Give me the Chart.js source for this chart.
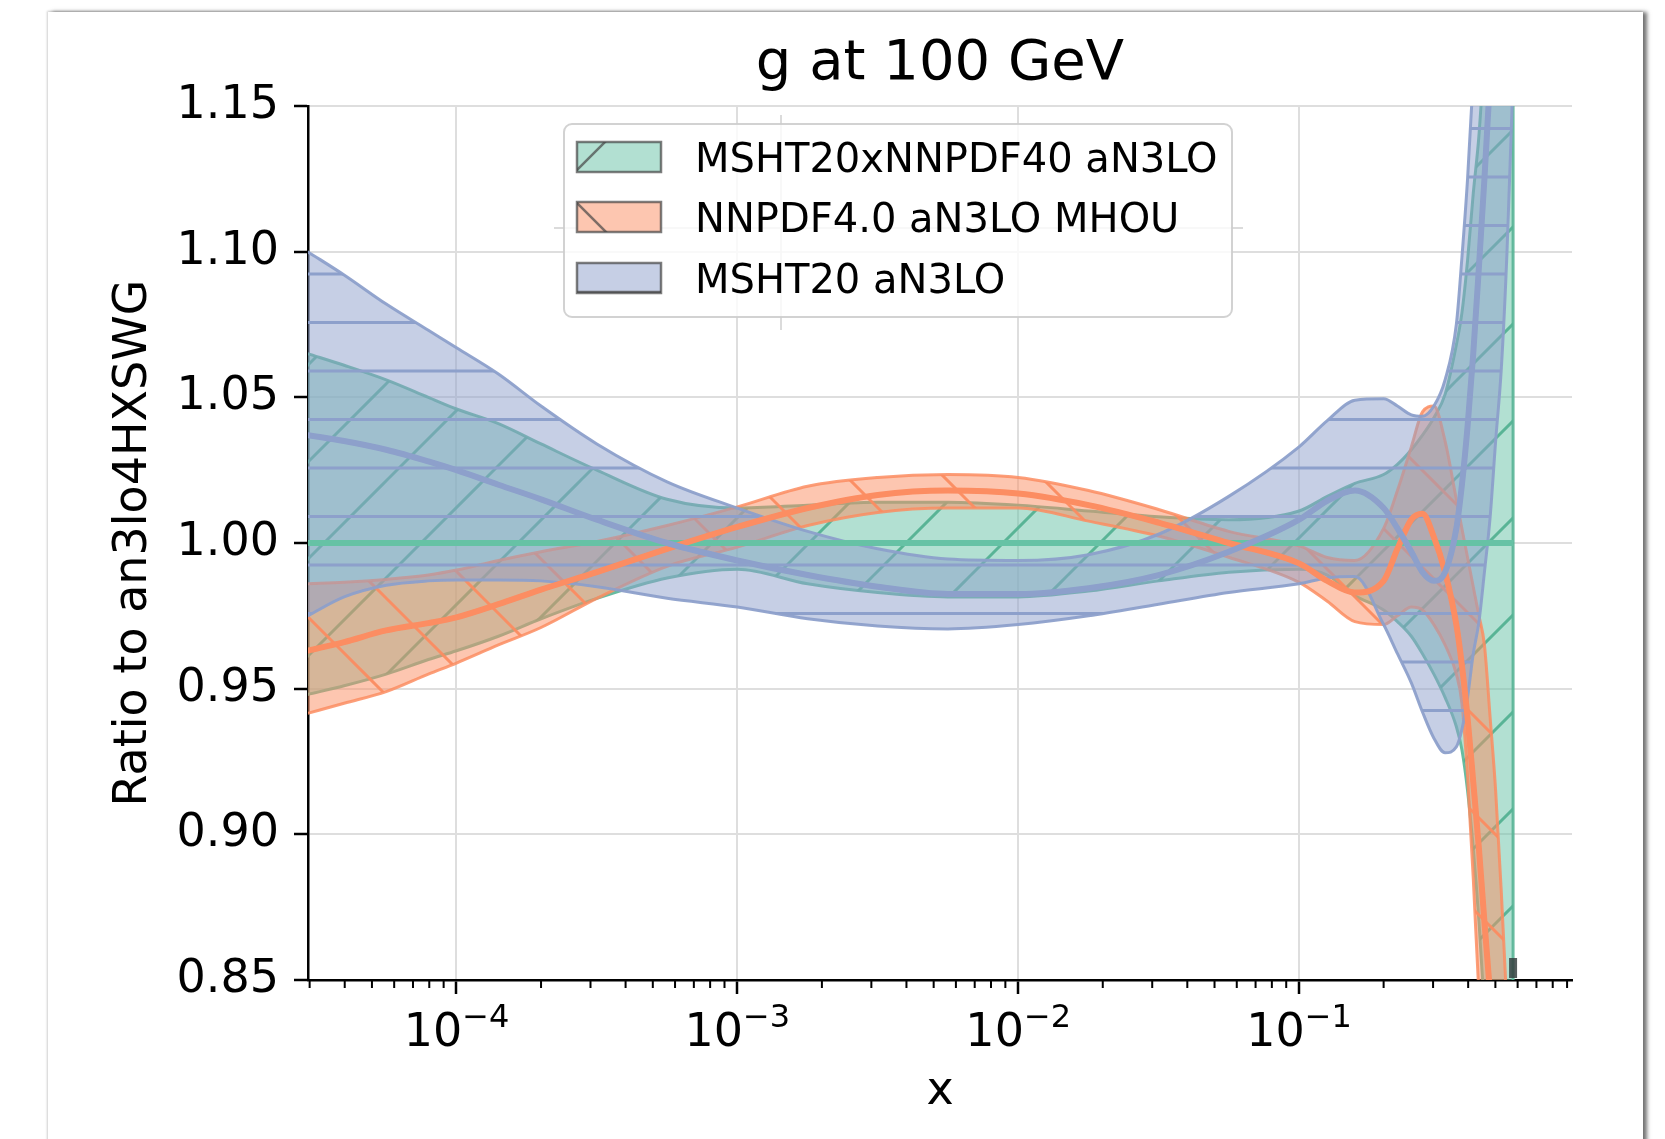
<!DOCTYPE html>
<html>
<head>
<meta charset="utf-8">
<title>g at 100 GeV</title>
<script src="https://cdn.jsdelivr.net/npm/chart.js@4.4.1/dist/chart.umd.min.js"></script>
<style>
  html, body { margin: 0; padding: 0; background: #fff; }
  body { width: 1665px; height: 1139px; position: relative; overflow: hidden; }
  .sheet {
    position: absolute; left: 48px; top: 12px; width: 1595px; height: 1200px; background: #fff;
    box-shadow: -1px -1px 2px rgba(0, 0, 0, 0.18), 4px 0 4px rgba(0, 0, 0, 0.55);
  }
  canvas { position: absolute; left: 0; top: 0; }
</style>
</head>
<body>
<div class="sheet"></div>
<canvas id="pdfRatio" width="1665" height="1139"></canvas>
<script>
// x grid shared by every set
const xGrid = [
  2.95e-5, 3.98e-5, 5.62e-5, 7.94e-5, 1.0e-4, 1.41e-4, 2.0e-4, 3.16e-4, 5.62e-4, 1.0e-3,
  1.78e-3, 3.16e-3, 5.62e-3, 0.01, 0.0178, 0.0316, 0.0562, 0.1, 0.126, 0.158,
  0.2, 0.224, 0.251, 0.275, 0.302, 0.331, 0.363, 0.380, 0.398, 0.417,
  0.437, 0.457, 0.479, 0.501, 0.525, 0.550, 0.578
];

// MSHT20xNNPDF40 aN3LO (the reference set itself)
const comboCentral = [
  1, 1, 1, 1, 1, 1, 1, 1, 1, 1, 1, 1, 1, 1, 1, 1, 1, 1, 1, 1,
  1, 1, 1, 1, 1, 1, 1, 1, 1, 1, 1, 1, 1, 1, 1, 1, 1
];
const comboUpper = [
  1.065, 1.061, 1.056, 1.050, 1.046, 1.041, 1.034, 1.025, 1.015, 1.012,
  1.013, 1.014, 1.014, 1.013, 1.011, 1.009, 1.008, 1.011, 1.016, 1.0205,
  1.0235, 1.027, 1.032, 1.037, 1.043, 1.051, 1.068, 1.079, 1.097, 1.120,
  1.140, 1.170, 1.210, 1.260, 1.320, 1.400, 1.500
];
const comboLower = [
  0.948, 0.951, 0.955, 0.960, 0.963, 0.968, 0.974, 0.981, 0.988, 0.991,
  0.986, 0.983, 0.9815, 0.9815, 0.9835, 0.987, 0.990, 0.991, 0.989, 0.982,
  0.977, 0.973, 0.968, 0.962, 0.955, 0.947, 0.937, 0.929, 0.915, 0.895,
  0.870, 0.840, 0.800, 0.750, 0.700, 0.600, 0.500
];

// NNPDF4.0 aN3LO MHOU
const nnpdfCentral = [
  0.963, 0.966, 0.970, 0.9725, 0.9745, 0.979, 0.984, 0.990, 0.998, 1.0055,
  1.012, 1.0165, 1.018, 1.017, 1.013, 1.007, 1.000, 0.993, 0.987, 0.983,
  0.987, 0.998, 1.008, 1.010, 1.002, 0.990, 0.972, 0.958, 0.940, 0.918,
  0.895, 0.870, 0.845, 0.820, 0.790, 0.760, 0.720
];
const nnpdfUpper = [
  0.986, 0.9865, 0.9875, 0.989, 0.9907, 0.994, 0.997, 1.0005, 1.006, 1.0124,
  1.0195, 1.0225, 1.0235, 1.0225, 1.018, 1.0115, 1.004, 0.999, 0.995, 0.994,
  1.005, 1.018, 1.033, 1.045, 1.047, 1.035, 1.015, 1.005, 0.995, 0.985,
  0.975, 0.965, 0.940, 0.915, 0.880, 0.840, 0.800
];
const nnpdfLower = [
  0.9415, 0.945, 0.949, 0.955, 0.9588, 0.965, 0.971, 0.981, 0.992, 0.9986,
  1.006, 1.0105, 1.012, 1.012, 1.0075, 1.0024, 0.9951, 0.9865, 0.980, 0.973,
  0.972, 0.975, 0.978, 0.977, 0.972, 0.965, 0.955, 0.945, 0.920, 0.885,
  0.845, 0.820, 0.790, 0.760, 0.730, 0.700, 0.660
];

// MSHT20 aN3LO
const mshtCentral = [
  1.037, 1.035, 1.032, 1.028, 1.025, 1.020, 1.015, 1.008, 1.000, 0.994,
  0.989, 0.985, 0.9825, 0.9825, 0.9845, 0.989, 0.997, 1.008, 1.0145, 1.018,
  1.012, 1.005, 0.997, 0.990, 0.987, 0.990, 1.005, 1.020, 1.040, 1.065,
  1.095, 1.125, 1.160, 1.200, 1.250, 1.300, 1.360
];
const mshtUpper = [
  1.100, 1.092, 1.082, 1.073, 1.067, 1.058, 1.047, 1.034, 1.021, 1.012,
  1.004, 0.998, 0.9945, 0.994, 0.996, 1.003, 1.016, 1.033, 1.042, 1.049,
  1.0495, 1.047, 1.044, 1.0435, 1.047, 1.056, 1.075, 1.098, 1.125, 1.160,
  1.200, 1.250, 1.300, 1.350, 1.400, 1.450, 1.500
];
const mshtLower = [
  0.975, 0.9815, 0.9855, 0.987, 0.9873, 0.9873, 0.987, 0.985, 0.981, 0.978,
  0.974, 0.9715, 0.9705, 0.972, 0.975, 0.979, 0.983, 0.986, 0.988, 0.9885,
  0.972, 0.962, 0.952, 0.942, 0.933, 0.928, 0.930, 0.936, 0.947, 0.962,
  0.973, 0.990, 1.009, 1.035, 1.060, 1.100, 1.160
];

// axes
const yTicks = [0.85, 0.90, 0.95, 1.00, 1.05, 1.10, 1.15];
const xDecades = [1e-4, 1e-3, 1e-2, 1e-1];
const xDecadeExp = ['\u22124', '\u22123', '\u22122', '\u22121'];
const legendLabels = ['MSHT20xNNPDF40 aN3LO', 'NNPDF4.0 aN3LO MHOU', 'MSHT20 aN3LO'];

const GREEN = '102, 194, 165';
const ORANGE = '252, 141, 98';
const BLUE = '141, 160, 203';
const FONT = '"DejaVu Sans"';

Chart.defaults.font.family = FONT;
Chart.defaults.color = '#000';

const canvas = document.getElementById('pdfRatio');
const ctx = canvas.getContext('2d');

// hatched translucent fill, tiles repeat from the canvas origin
function hatchPattern(rgb, lineRgba, kind, phase) {
  const T = 97;
  const tile = document.createElement('canvas');
  tile.width = T;
  tile.height = T;
  const g = tile.getContext('2d');
  g.fillStyle = `rgba(${rgb}, 0.5)`;
  g.fillRect(0, 0, T, T);
  g.strokeStyle = lineRgba;
  g.lineWidth = 3;
  g.beginPath();
  if (kind === '-') {
    [phase, phase + T / 2].forEach(y => { g.moveTo(0, y); g.lineTo(T, y); });
  } else if (kind === '/') {
    for (let k = -1; k <= 2; k++) {
      const c = phase + k * T;
      g.moveTo(c + 5, -5);
      g.lineTo(c - T - 5, T + 5);
    }
  } else {
    for (let k = -2; k <= 1; k++) {
      const c = phase + k * T;
      g.moveTo(c - 5, -5);
      g.lineTo(c + T + 5, T + 5);
    }
  }
  g.stroke();
  return ctx.createPattern(tile, 'repeat');
}

const greenHatch = hatchPattern(GREEN, 'rgba(85, 178, 148, 0.95)', '/', 91);
const orangeHatch = hatchPattern(ORANGE, `rgba(${ORANGE}, 0.95)`, '\\', 79);
const blueHatch = hatchPattern(BLUE, `rgba(${BLUE}, 1)`, '-', 31.5);

const pts = ys => xGrid.map((x, i) => ({ x, y: ys[i] }));

// band edges and fill; the central lines are added after all bands
function band(label, lower, upper, edge, pattern, order) {
  return [
    { label: label + ' (lower)', data: pts(lower), borderColor: edge, borderWidth: 3, fill: false, order: order + 1 },
    { label: label + ' (upper)', data: pts(upper), borderColor: edge, borderWidth: 3,
      backgroundColor: pattern, fill: '-1', order }
  ];
}
const centralLine = (label, ys, rgb, order) =>
  ({ label, data: pts(ys), borderColor: `rgb(${rgb})`, borderWidth: 6, fill: false, order });

const last = xGrid.length - 1;
const greenEdge = 'rgba(88, 180, 150, 0.9)';
const datasets = [
  ...band(legendLabels[0], comboLower, comboUpper, greenEdge, greenHatch, 30),
  ...band(legendLabels[1], nnpdfLower, nnpdfUpper, `rgba(${ORANGE}, 0.85)`, orangeHatch, 20),
  ...band(legendLabels[2], mshtLower, mshtUpper, `rgba(${BLUE}, 0.95)`, blueHatch, 10),
  // closing edge of the combined band at the end of the grid
  { label: 'combined band edge', data: [{ x: xGrid[last], y: comboLower[last] }, { x: xGrid[last], y: comboUpper[last] }],
    borderColor: greenEdge, borderWidth: 3, fill: false, tension: 0,
    cubicInterpolationMode: 'default', order: 29.5 },
  centralLine(legendLabels[0], comboCentral, GREEN, 3),
  centralLine(legendLabels[1], nnpdfCentral, ORANGE, 2),
  centralLine(legendLabels[2], mshtCentral, BLUE, 1)
];

// faint guide lines seen through the legend box
const underLegend = {
  id: 'underLegend',
  beforeDatasetsDraw(chart) {
    const { ctx } = chart;
    ctx.save();
    ctx.strokeStyle = 'rgba(215, 215, 215, 0.9)';
    ctx.lineWidth = 2;
    ctx.beginPath();
    ctx.moveTo(554, 228); ctx.lineTo(1243, 228);
    ctx.moveTo(781, 115); ctx.lineTo(781, 330);
    ctx.stroke();
    ctx.restore();
  }
};

// title, decade labels, minor ticks and the legend box
const decorations = {
  id: 'decorations',
  afterDraw(chart) {
    const { ctx, chartArea, scales } = chart;
    const xs = scales.x;
    const bottom = chartArea.bottom;
    ctx.save();

    ctx.strokeStyle = '#000';
    ctx.lineWidth = 2;
    ctx.beginPath();
    for (let e = -5; e <= -1; e++) {
      for (let m = 2; m <= 9; m++) {
        const v = m * Math.pow(10, e);
        if (v < xs.min || v > xs.max) continue;
        const px = xs.getPixelForValue(v);
        ctx.moveTo(px, bottom);
        ctx.lineTo(px, bottom + 8);
      }
    }
    ctx.stroke();

    // small dark marker at the foot of the combined band
    const endPx = xs.getPixelForValue(xGrid[last]);
    ctx.fillStyle = 'rgba(55, 65, 65, 0.85)';
    ctx.fillRect(endPx - 4, bottom - 22, 8, 20);

    ctx.fillStyle = '#000';
    ctx.textBaseline = 'alphabetic';
    ctx.textAlign = 'left';
    xDecades.forEach((v, i) => {
      const px = xs.getPixelForValue(v);
      ctx.font = `46px ${FONT}`;
      const wBase = ctx.measureText('10').width;
      ctx.font = `32px ${FONT}`;
      const wExp = ctx.measureText(xDecadeExp[i]).width;
      const left = px - (wBase + wExp) / 2;
      ctx.font = `46px ${FONT}`;
      ctx.fillText('10', left, bottom + 66);
      ctx.font = `32px ${FONT}`;
      ctx.fillText(xDecadeExp[i], left + wBase, bottom + 47);
    });

    ctx.font = `56px ${FONT}`;
    ctx.textAlign = 'center';
    ctx.fillText('g at 100 GeV', (chartArea.left + chartArea.right) / 2, 79);

    // legend
    ctx.beginPath();
    ctx.roundRect(564, 124, 668, 193, 8);
    ctx.fillStyle = 'rgba(255, 255, 255, 0.8)';
    ctx.fill();
    ctx.strokeStyle = 'rgba(205, 205, 205, 0.9)';
    ctx.lineWidth = 2;
    ctx.stroke();

    const rows = [142, 202, 263];
    const colors = [GREEN, ORANGE, BLUE];
    rows.forEach((top, i) => {
      const x0 = 577, w = 84, h = 30;
      ctx.fillStyle = '#fff';
      ctx.fillRect(x0, top, w, h);
      ctx.fillStyle = `rgba(${colors[i]}, 0.5)`;
      ctx.fillRect(x0, top, w, h);
      ctx.save();
      ctx.beginPath();
      ctx.rect(x0, top, w, h);
      ctx.clip();
      ctx.strokeStyle = 'rgba(70, 70, 70, 0.7)';
      ctx.lineWidth = 2.5;
      ctx.beginPath();
      if (i === 0) { ctx.moveTo(x0 - 5, top + 33); ctx.lineTo(x0 + 35, top - 7); }
      if (i === 1) { ctx.moveTo(x0 - 5, top - 4); ctx.lineTo(x0 + 35, top + 36); }
      if (i === 2) { ctx.moveTo(x0, top + h - 1); ctx.lineTo(x0 + w, top + h - 1); }
      ctx.stroke();
      ctx.restore();
      ctx.strokeStyle = 'rgba(70, 70, 70, 0.7)';
      ctx.lineWidth = 2.5;
      ctx.strokeRect(x0, top, w, h);

      ctx.fillStyle = '#000';
      ctx.font = `40px ${FONT}`;
      ctx.textAlign = 'left';
      ctx.fillText(legendLabels[i], 695, top + h);
    });

    ctx.restore();
  }
};

new Chart(ctx, {
  type: 'line',
  data: { datasets },
  options: {
    responsive: false,
    animation: false,
    devicePixelRatio: 1,
    layout: { padding: { left: 60, right: 93, top: 106, bottom: 0 } },
    elements: {
      point: { radius: 0, hoverRadius: 0 },
      line: { cubicInterpolationMode: 'monotone' }
    },
    plugins: {
      legend: { display: false },
      title: { display: false },
      tooltip: { enabled: false }
    },
    scales: {
      x: {
        type: 'logarithmic',
        min: 2.96e-5,
        max: 0.937,
        afterBuildTicks: scale => { scale.ticks = xDecades.map(value => ({ value, major: true })); },
        afterFit: scale => { scale.height = 159; },
        ticks: { display: false },
        grid: { color: '#dedede', lineWidth: 2, tickLength: 14, tickWidth: 2.5, tickColor: '#000' },
        border: { display: true, color: '#000', width: 2.5 },
        title: { display: true, text: 'x', font: { size: 46 }, color: '#000', padding: { top: 0, bottom: 19 } }
      },
      y: {
        type: 'linear',
        min: 0.85,
        max: 1.15,
        afterBuildTicks: scale => { scale.ticks = yTicks.map(value => ({ value })); },
        afterFit: scale => { scale.width = 248; },
        ticks: { font: { size: 46 }, color: '#000', padding: 15, callback: v => Number(v).toFixed(2) },
        grid: { color: '#dedede', lineWidth: 2, tickLength: 14, tickWidth: 2.5, tickColor: '#000' },
        border: { display: true, color: '#000', width: 2.5 },
        title: { display: true, text: 'Ratio to an3lo4HXSWG', font: { size: 46 }, color: '#000', padding: { top: 46, bottom: 0 } }
      }
    }
  },
  plugins: [underLegend, decorations]
});
</script>
</body>
</html>
